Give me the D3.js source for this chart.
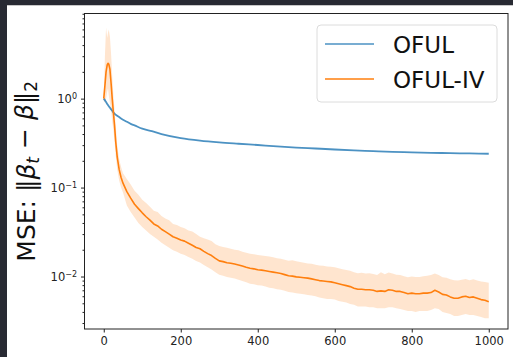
<!DOCTYPE html>
<meta charset="utf-8">
<style>
  body { margin: 0; background: #282a33; }
  svg { display: block; }
  .axis text { font-family: "DejaVu Sans", sans-serif; font-size: 11.5px; fill: #222; }
  .axis path, .axis line { stroke: #222; }
  .legend text { font-family: "DejaVu Sans", sans-serif; font-size: 23px; fill: #111; }
</style>
<body></body>
<script src="https://d3js.org/d3.v7.min.js"></script>
<script>
// OFUL (blue)
var ofulT = [0, 5, 10, 15, 20, 25, 30, 40, 50, 60, 70, 80, 100, 125, 150, 200, 250, 300, 350, 400, 450, 500, 550, 600, 650, 700, 750, 800, 850, 900, 950, 1000];
var ofulMse = [1.0, 0.93, 0.86, 0.8, 0.75, 0.7, 0.665, 0.62, 0.58, 0.55, 0.52, 0.5, 0.46, 0.43, 0.40, 0.36, 0.337, 0.322, 0.311, 0.301, 0.291, 0.282, 0.275, 0.268, 0.262, 0.257, 0.252, 0.249, 0.246, 0.244, 0.242, 0.240];

// OFUL-IV (orange): mean and shaded band
var ivT = [0, 3, 6, 9, 11, 13, 16, 19, 22, 25, 28, 31, 35, 40, 45, 50].concat(d3.range(60, 1001, 10));
var ivMean = [1.0, 1.4, 2.0, 2.4, 2.5, 2.45, 2.15, 1.5, 1.0, 0.7, 0.5, 0.33, 0.22, 0.16, 0.13, 0.112,
  0.090, 0.076, 0.065, 0.058, 0.052, 0.047, 0.043, 0.039, 0.037, 0.034,
  0.032, 0.030, 0.028, 0.027, 0.0258, 0.0250, 0.0237, 0.0225, 0.0212, 0.0205,
  0.0192, 0.0181, 0.0172, 0.0160, 0.0150, 0.0147, 0.0143, 0.0141, 0.0138, 0.0135,
  0.0131, 0.0127, 0.0124, 0.0122, 0.0119, 0.0118, 0.0116, 0.0114, 0.0112, 0.0110,
  0.0108, 0.0105, 0.0102, 0.0101, 0.0099, 0.0098, 0.0097, 0.0096, 0.0094, 0.0092,
  0.0090, 0.0089, 0.0088, 0.0087, 0.0085, 0.0083, 0.0081, 0.0079, 0.0077, 0.0074,
  0.0072, 0.0072, 0.0071, 0.0071, 0.0070, 0.0068, 0.0069, 0.0068, 0.0071, 0.0070,
  0.0068, 0.0068, 0.0066, 0.0064, 0.0065, 0.0064, 0.0064, 0.0065, 0.0065, 0.0066,
  0.0070, 0.0067, 0.0063, 0.0062, 0.0059, 0.0057, 0.0057, 0.0059, 0.0060, 0.0058,
  0.0059, 0.0057, 0.0055, 0.0054, 0.0052];
var ivUpper = [1.05, 3.0, 6.3, 4.8, 5.5, 6.0, 5.0, 3.2, 1.8, 1.1, 0.75, 0.5, 0.3, 0.21, 0.17, 0.145,
  0.125, 0.108, 0.092, 0.083, 0.073, 0.067, 0.061, 0.055, 0.053, 0.048,
  0.045, 0.043, 0.039, 0.038, 0.036, 0.035, 0.033, 0.032, 0.030, 0.028,
  0.027, 0.026, 0.025, 0.023, 0.022, 0.0215, 0.021, 0.0205, 0.020, 0.0198,
  0.019, 0.0185, 0.018, 0.0178, 0.0175, 0.0172, 0.017, 0.0168, 0.0165, 0.016,
  0.0158, 0.0154, 0.015, 0.0152, 0.0148, 0.0146, 0.0143, 0.014, 0.0139, 0.0136,
  0.0133, 0.0132, 0.013, 0.0129, 0.0127, 0.0124, 0.0121, 0.0118, 0.0116, 0.0112,
  0.0109, 0.011, 0.0108, 0.0109, 0.0107, 0.0104, 0.0112, 0.0106, 0.0111, 0.0108,
  0.0105, 0.0104, 0.0101, 0.0098, 0.0100, 0.0099, 0.0099, 0.0101, 0.0102, 0.0104,
  0.0108, 0.0104, 0.0098, 0.0097, 0.0093, 0.0091, 0.0090, 0.0092, 0.0094, 0.0091,
  0.0093, 0.0090, 0.0088, 0.0087, 0.0085];
var ivLower = [0.95, 0.9, 1.0, 1.2, 1.3, 1.1, 0.9, 0.75, 0.55, 0.45, 0.33, 0.23, 0.16, 0.12, 0.10, 0.088,
  0.063, 0.053, 0.046, 0.040, 0.036, 0.033, 0.030, 0.028, 0.026, 0.024,
  0.0225, 0.021, 0.0198, 0.019, 0.018, 0.0175, 0.0166, 0.0158, 0.0149, 0.0144,
  0.0135, 0.0127, 0.0120, 0.0112, 0.0105, 0.0102, 0.0099, 0.0097, 0.0095, 0.0092,
  0.0089, 0.0086, 0.0083, 0.0082, 0.0080, 0.0079, 0.0077, 0.0075, 0.0074, 0.0072,
  0.0071, 0.0069, 0.0067, 0.0066, 0.0065, 0.0064, 0.0063, 0.0062, 0.0061, 0.0060,
  0.0058, 0.0057, 0.0056, 0.0056, 0.0055, 0.0053, 0.0052, 0.0051, 0.0049, 0.0048,
  0.0046, 0.0046, 0.0046, 0.0045, 0.0045, 0.0044, 0.0044, 0.0044, 0.0045, 0.0045,
  0.0044, 0.0043, 0.0042, 0.0041, 0.0041, 0.0040, 0.0041, 0.0041, 0.0041, 0.0042,
  0.0044, 0.0043, 0.0040, 0.0039, 0.0038, 0.0036, 0.0036, 0.0037, 0.0038, 0.0037,
  0.0037, 0.0036, 0.0035, 0.0034, 0.0034];

var xTicks = [0, 200, 400, 600, 800, 1000];
var yMajor = [1e-2, 1e-1, 1e0];
var yExp = ["\u22122", "\u22121", "0"];
var legendNames = ["OFUL", "OFUL-IV"];

var W = 513, H = 357;
var mLeft = 84.5, mRight = 508, mTop = 13.5, mBottom = 329;

var svg = d3.select("body").append("svg").attr("width", W).attr("height", H);
svg.append("rect").attr("x", 7).attr("y", 5).attr("width", W - 7).attr("height", H - 5).attr("fill", "#fff");
svg.append("line").attr("x1", 7).attr("x2", W).attr("y1", 5.5).attr("y2", 5.5).attr("stroke", "#c8c8c8");

var x = d3.scaleLinear().domain([-50, 1050]).range([mLeft, mRight]);
var y = d3.scaleLog().domain([0.00257, 9.06]).range([mBottom, mTop]);

svg.append("defs").append("clipPath").attr("id", "clip")
  .append("rect").attr("x", mLeft).attr("y", mTop).attr("width", mRight - mLeft).attr("height", mBottom - mTop);
var plot = svg.append("g").attr("clip-path", "url(#clip)");

var ivRows = ivT.map((t, i) => ({t: t, m: ivMean[i], lo: ivLower[i], hi: ivUpper[i]}));

plot.append("path").datum(ivRows)
  .attr("d", d3.area().x(d => x(d.t)).y0(d => y(d.lo)).y1(d => y(d.hi)))
  .attr("fill", "#ff7f0e").attr("fill-opacity", 0.2);

plot.append("path").datum(ofulT.map((t, i) => [t, ofulMse[i]]))
  .attr("d", d3.line().x(d => x(d[0])).y(d => y(d[1])).curve(d3.curveMonotoneX))
  .attr("fill", "none").attr("stroke", "#1f77b4").attr("stroke-opacity", 0.8).attr("stroke-width", 1.8);

plot.append("path").datum(ivRows)
  .attr("d", d3.line().x(d => x(d.t)).y(d => y(d.m)))
  .attr("fill", "none").attr("stroke", "#ff7f0e").attr("stroke-width", 1.6).attr("stroke-linejoin", "round");

// x axis
var xAxis = svg.append("g").attr("class", "axis")
  .attr("transform", "translate(0," + mBottom + ")")
  .call(d3.axisBottom(x).tickValues(xTicks).tickSize(3.5).tickPadding(4).tickFormat(d3.format("d")));
xAxis.select(".domain").remove();

// y axis: minor ticks then major
var minor = [];
[0.001, 0.01, 0.1, 1].forEach(b => d3.range(2, 10).forEach(k => {
  var v = b * k;
  if (v >= y.domain()[0] && v <= y.domain()[1]) minor.push(v);
}));
var yMinor = svg.append("g").attr("class", "axis")
  .attr("transform", "translate(" + mLeft + ",0)")
  .call(d3.axisLeft(y).tickValues(minor).tickSize(2).tickFormat(""));
yMinor.select(".domain").remove();

var yAxis = svg.append("g").attr("class", "axis")
  .attr("transform", "translate(" + mLeft + ",0)")
  .call(d3.axisLeft(y).tickValues(yMajor).tickSize(3.5).tickPadding(4).tickFormat(""));
yAxis.select(".domain").remove();
yAxis.selectAll(".tick").each(function(d, i) {
  var t = d3.select(this).select("text").text(null).attr("dy", "0.32em");
  t.append("tspan").text("10");
  t.append("tspan").attr("dy", "-0.45em").attr("font-size", "8px").text(yExp[i]);
});

// frame
svg.append("rect").attr("x", mLeft).attr("y", mTop).attr("width", mRight - mLeft).attr("height", mBottom - mTop)
  .attr("fill", "none").attr("stroke", "#222").attr("stroke-width", 1);

// y label
var yl = svg.append("text")
  .attr("transform", "translate(35," + ((mTop + mBottom) / 2) + ") rotate(-90)")
  .attr("text-anchor", "middle")
  .style("font-family", "DejaVu Sans, sans-serif").style("font-size", "25px").attr("fill", "#111");
yl.append("tspan").text("MSE: \u2016");
yl.append("tspan").attr("font-style", "italic").text("\u03b2");
yl.append("tspan").attr("font-style", "italic").attr("font-size", "17px").attr("dy", "0.25em").text("t");
yl.append("tspan").attr("dy", "-0.25em").text(" \u2212 ");
yl.append("tspan").attr("font-style", "italic").text("\u03b2");
yl.append("tspan").text("\u2016");
yl.append("tspan").attr("font-size", "17px").attr("dy", "0.25em").text("2");

// legend
var lg = svg.append("g").attr("class", "legend");
lg.append("rect").attr("x", 317).attr("y", 25).attr("width", 180).attr("height", 77).attr("rx", 4)
  .attr("fill", "#fff").attr("fill-opacity", 0.8).attr("stroke", "#dcdcdc");
var legendColors = ["#1f77b4", "#ff7f0e"];
legendNames.forEach((n, i) => {
  var yy = 44 + i * 35;
  lg.append("line").attr("x1", 325).attr("x2", 374).attr("y1", yy).attr("y2", yy)
    .attr("stroke", legendColors[i]).attr("stroke-opacity", i === 0 ? 0.8 : 1).attr("stroke-width", 1.6);
  lg.append("text").attr("x", 393).attr("y", yy + 9).text(n);
});
</script>
